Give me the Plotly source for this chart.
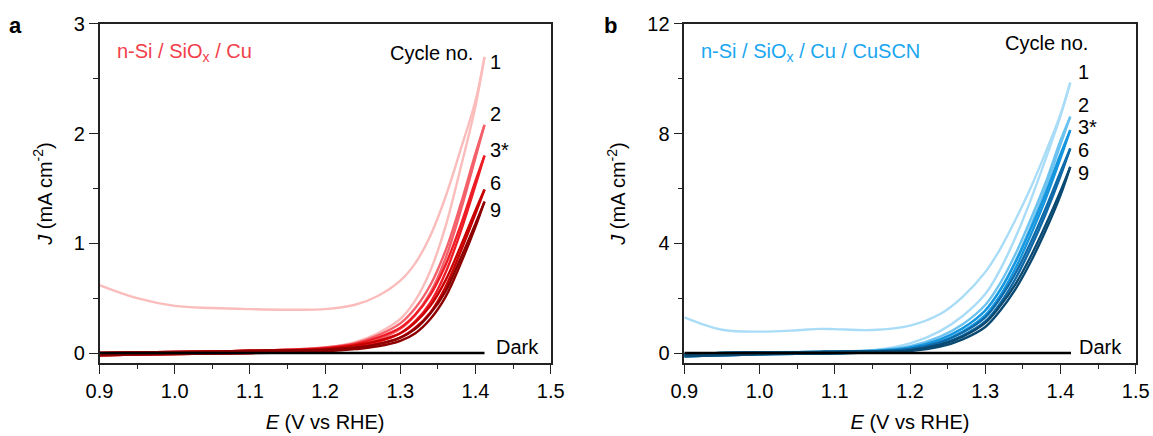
import plotly.graph_objects as go

# ---------------- data ----------------
E_a = [0.90, 0.95, 1.00, 1.05, 1.10, 1.15, 1.20, 1.24, 1.27, 1.30, 1.32, 1.34, 1.36, 1.38, 1.40, 1.412]
a_c1_fwd = [0.62, 0.50, 0.43, 0.41, 0.40, 0.395, 0.40, 0.44, 0.52, 0.66, 0.82, 1.07, 1.42, 1.85, 2.30, 2.70]
a_c1_rev = [0.0, 0.005, 0.01, 0.015, 0.02, 0.03, 0.05, 0.10, 0.18, 0.31, 0.48, 0.75, 1.15, 1.68, 2.25, 2.70]
a_c2_fwd = [0.0, 0.005, 0.01, 0.015, 0.02, 0.03, 0.05, 0.09, 0.16, 0.27, 0.41, 0.62, 0.93, 1.35, 1.82, 2.08]
a_c2_rev = [-0.02, -0.015, -0.01, -0.005, 0.0, 0.01, 0.03, 0.06, 0.12, 0.22, 0.35, 0.55, 0.86, 1.29, 1.78, 2.08]
a_c3_fwd = [0.0, 0.005, 0.01, 0.015, 0.02, 0.03, 0.045, 0.08, 0.14, 0.23, 0.35, 0.53, 0.80, 1.16, 1.57, 1.80]
a_c3_rev = [-0.02, -0.015, -0.01, -0.005, 0.0, 0.01, 0.025, 0.055, 0.10, 0.18, 0.29, 0.46, 0.73, 1.10, 1.53, 1.80]
a_c6_fwd = [0.0, 0.005, 0.01, 0.015, 0.02, 0.025, 0.04, 0.07, 0.11, 0.18, 0.28, 0.43, 0.66, 0.97, 1.30, 1.49]
a_c6_rev = [-0.02, -0.015, -0.01, -0.005, 0.0, 0.01, 0.02, 0.045, 0.08, 0.14, 0.23, 0.37, 0.60, 0.92, 1.27, 1.49]
a_c9_fwd = [0.0, 0.005, 0.01, 0.015, 0.02, 0.025, 0.03, 0.05, 0.08, 0.14, 0.22, 0.36, 0.56, 0.86, 1.18, 1.38]
a_c9_rev = [-0.02, -0.015, -0.01, -0.005, 0.0, 0.005, 0.015, 0.035, 0.06, 0.11, 0.18, 0.31, 0.51, 0.81, 1.15, 1.38]
a_dark_E = [0.90, 1.412]
a_dark_J = [0.0, 0.0]

E_b = [0.90, 0.95, 1.00, 1.05, 1.08, 1.10, 1.15, 1.20, 1.24, 1.27, 1.30, 1.32, 1.34, 1.36, 1.38, 1.40, 1.413]
b_c1_fwd = [1.30, 0.85, 0.78, 0.83, 0.88, 0.87, 0.84, 1.00, 1.42, 2.05, 2.95, 3.80, 4.85, 6.00, 7.30, 8.70, 9.86]
b_c1_rev = [-0.05, 0.0, 0.02, 0.04, 0.05, 0.06, 0.10, 0.35, 0.80, 1.35, 2.15, 3.05, 4.20, 5.55, 7.05, 8.65, 9.86]
b_c2_fwd = [-0.05, 0.0, 0.02, 0.03, 0.04, 0.05, 0.09, 0.25, 0.60, 1.05, 1.75, 2.55, 3.60, 4.85, 6.20, 7.75, 8.62]
b_c2_rev = [-0.12, -0.08, -0.05, -0.03, -0.02, -0.01, 0.05, 0.18, 0.48, 0.90, 1.55, 2.32, 3.35, 4.60, 6.00, 7.60, 8.62]
b_c3_fwd = [-0.05, 0.0, 0.02, 0.03, 0.04, 0.05, 0.08, 0.20, 0.50, 0.90, 1.55, 2.30, 3.30, 4.50, 5.80, 7.25, 8.13]
b_c3_rev = [-0.12, -0.08, -0.05, -0.03, -0.02, -0.01, 0.04, 0.15, 0.40, 0.78, 1.38, 2.10, 3.08, 4.28, 5.60, 7.10, 8.13]
b_c6_fwd = [-0.05, 0.0, 0.02, 0.03, 0.04, 0.05, 0.07, 0.15, 0.40, 0.75, 1.30, 2.00, 2.90, 4.00, 5.25, 6.60, 7.46]
b_c6_rev = [-0.12, -0.08, -0.05, -0.03, -0.02, -0.01, 0.03, 0.11, 0.32, 0.64, 1.15, 1.82, 2.70, 3.80, 5.05, 6.45, 7.46]
b_c9_fwd = [-0.05, 0.0, 0.02, 0.03, 0.04, 0.05, 0.06, 0.10, 0.30, 0.60, 1.10, 1.72, 2.50, 3.50, 4.65, 5.90, 6.79]
b_c9_rev = [-0.12, -0.08, -0.05, -0.03, -0.02, -0.01, 0.02, 0.07, 0.23, 0.50, 0.95, 1.55, 2.32, 3.30, 4.45, 5.75, 6.79]
b_dark_E = [0.90, 1.414]
b_dark_J = [0.0, 0.0]

cycles = ["1", "2", "3*", "6", "9"]
colors_a = ["#fbbcbc", "#f4606a", "#ee1c25", "#c80000", "#8e0000"]
colors_b = ["#a9dcf7", "#6cc3f0", "#1596de", "#0e6aa8", "#0a4a72"]

# label positions (data coordinates)
label_y_a = [2.65, 2.18, 1.85, 1.55, 1.30]
label_y_b = [10.26, 9.04, 8.25, 7.40, 6.58]

# ---------------- figure ----------------
FONT = "Liberation Sans, Arial, sans-serif"
FS = 20
fig = go.Figure()

series_a = [(a_c1_fwd, a_c1_rev), (a_c2_fwd, a_c2_rev), (a_c3_fwd, a_c3_rev),
            (a_c6_fwd, a_c6_rev), (a_c9_fwd, a_c9_rev)]
series_b = [(b_c1_fwd, b_c1_rev), (b_c2_fwd, b_c2_rev), (b_c3_fwd, b_c3_rev),
            (b_c6_fwd, b_c6_rev), (b_c9_fwd, b_c9_rev)]

for (fwd, rev), col in zip(series_a, colors_a):
    for ys in (fwd, rev):
        fig.add_trace(go.Scatter(x=E_a, y=ys, mode="lines", xaxis="x", yaxis="y",
                                 line=dict(color=col, width=2.4, shape="spline", smoothing=1.0),
                                 showlegend=False, hoverinfo="skip"))
fig.add_trace(go.Scatter(x=a_dark_E, y=a_dark_J, mode="lines", xaxis="x", yaxis="y",
                         line=dict(color="black", width=2.4), showlegend=False))

for (fwd, rev), col in zip(series_b, colors_b):
    for ys in (fwd, rev):
        fig.add_trace(go.Scatter(x=E_b, y=ys, mode="lines", xaxis="x2", yaxis="y2",
                                 line=dict(color=col, width=2.4, shape="spline", smoothing=1.0),
                                 showlegend=False, hoverinfo="skip"))
fig.add_trace(go.Scatter(x=b_dark_E, y=b_dark_J, mode="lines", xaxis="x2", yaxis="y2",
                         line=dict(color="black", width=2.4), showlegend=False))

axis_common = dict(showline=True, linecolor="#222222", linewidth=1.5, mirror=True,
                   ticks="outside", ticklen=9, tickwidth=1.3, tickcolor="#222222",
                   showgrid=False, zeroline=False, automargin=False,
                   tickfont=dict(family=FONT, size=FS, color="black"))

xa = dict(axis_common, range=[0.9, 1.5], dtick=0.1, tick0=0.9, tickformat=".1f",
          minor=dict(dtick=0.05, ticklen=4, tickcolor="#222222", ticks="outside"),
          title=dict(text="<i>E</i> (V vs RHE)", font=dict(family=FONT, size=FS, color="black"), standoff=14))

ya_title = dict(text="<i>J</i> (mA cm<sup>-2</sup>)", font=dict(family=FONT, size=FS, color="black"), standoff=16)

fig.update_layout(
    width=1153, height=436,
    margin=dict(l=0, r=0, t=0, b=0, autoexpand=False),
    paper_bgcolor="white", plot_bgcolor="white",
    xaxis=dict(xa, domain=[0.0863, 0.4776], anchor="y"),
    xaxis2=dict(xa, domain=[0.5935, 0.9850], anchor="y2"),
    yaxis=dict(axis_common, range=[-0.0912, 3], dtick=1, tick0=0,
               minor=dict(dtick=0.5, ticklen=5, tickcolor="#222222", ticks="outside"),
               domain=[0.1674, 0.9450], anchor="x", title=ya_title),
    yaxis2=dict(axis_common, range=[-0.365, 12], dtick=4, tick0=0,
                minor=dict(dtick=2, ticklen=5, tickcolor="#222222", ticks="outside"),
                domain=[0.1674, 0.9450], anchor="x2", title=ya_title),
    font=dict(family=FONT, size=FS, color="black"),
)

ann = []
# panel letters
ann.append(dict(text="<b>a</b>", x=15 / 1153, y=1 - 25 / 436, xref="paper", yref="paper",
                xanchor="center", yanchor="middle",
                showarrow=False, font=dict(family=FONT, size=22, color="black")))
ann.append(dict(text="<b>b</b>", x=610 / 1153, y=1 - 25 / 436, xref="paper", yref="paper",
                xanchor="center", yanchor="middle",
                showarrow=False, font=dict(family=FONT, size=22, color="black")))
# sample labels
ann.append(dict(text="n-Si / SiO<sub>x</sub> / Cu", x=0.9207, y=2.74, xref="x", yref="y",
                xanchor="left", showarrow=False, font=dict(family=FONT, size=FS, color="#f2404a")))
ann.append(dict(text="n-Si / SiO<sub>x</sub> / Cu / CuSCN", x=0.9196, y=10.95, xref="x2", yref="y2",
                xanchor="left", showarrow=False, font=dict(family=FONT, size=FS, color="#1aa6f0")))
# Cycle no.
ann.append(dict(text="Cycle no.", x=1.3415, y=2.74, xref="x", yref="y", xanchor="center",
                showarrow=False, font=dict(family=FONT, size=FS)))
ann.append(dict(text="Cycle no.", x=1.382, y=11.29, xref="x2", yref="y2", xanchor="center",
                showarrow=False, font=dict(family=FONT, size=FS)))
for lab, ya_, yb_ in zip(cycles, label_y_a, label_y_b):
    ann.append(dict(text=lab, x=1.417, y=ya_, xref="x", yref="y", xanchor="left",
                    showarrow=False, font=dict(family=FONT, size=FS)))
    ann.append(dict(text=lab, x=1.42, y=yb_, xref="x2", yref="y2", xanchor="left",
                    showarrow=False, font=dict(family=FONT, size=FS)))
ann.append(dict(text="Dark", x=1.424, y=0.057, xref="x", yref="y", xanchor="left",
                showarrow=False, font=dict(family=FONT, size=FS)))
ann.append(dict(text="Dark", x=1.422, y=0.23, xref="x2", yref="y2", xanchor="left",
                showarrow=False, font=dict(family=FONT, size=FS)))
fig.update_layout(annotations=ann)

fig.write_html("out.html", config={"displayModeBar": False},
               post_script="document.body.style.margin='0px';")
